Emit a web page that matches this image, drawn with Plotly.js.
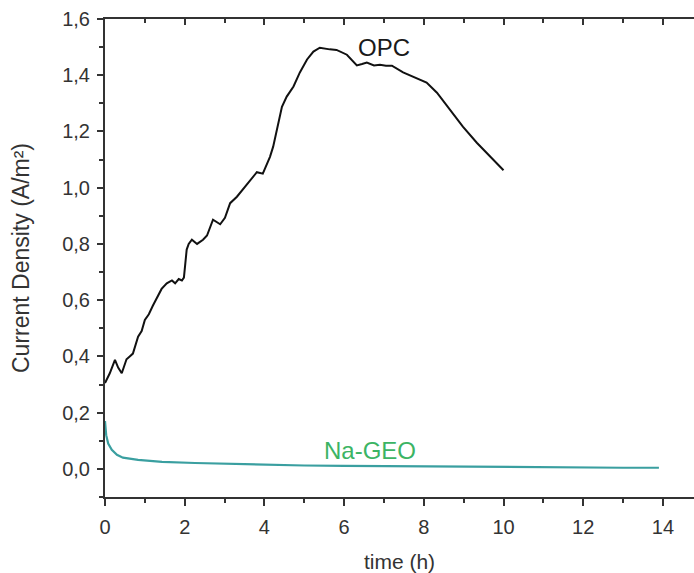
<!DOCTYPE html>
<html>
<head>
<meta charset="utf-8">
<script src="https://cdn.plot.ly/plotly-3.0.1.min.js"></script>
<style>html,body{margin:0;padding:0;background:#fff;}#chart{width:694px;height:573px;}</style>
</head>
<body>
<div id="chart"></div>
<script>
const opcTime = [0, 0.05, 0.12, 0.25, 0.33, 0.42, 0.54, 0.62, 0.70, 0.83, 0.92, 1.0, 1.1, 1.2, 1.3, 1.42, 1.55, 1.68, 1.76, 1.85, 1.93, 1.98, 2.05, 2.1, 2.18, 2.31, 2.46, 2.56, 2.71, 2.89, 3.01, 3.14, 3.31, 3.44, 3.64, 3.81, 3.96, 4.06, 4.14, 4.22, 4.31, 4.44, 4.56, 4.73, 4.89, 5.07, 5.23, 5.39, 5.64, 5.81, 6.07, 6.2, 6.32, 6.45, 6.57, 6.75, 6.9, 7.05, 7.2, 7.48, 7.73, 8.07, 8.33, 8.66, 8.98, 9.33, 9.66, 10.0];
const opcValue = [0.305, 0.32, 0.34, 0.388, 0.36, 0.34, 0.39, 0.40, 0.41, 0.47, 0.49, 0.53, 0.55, 0.58, 0.61, 0.64, 0.66, 0.67, 0.66, 0.675, 0.67, 0.68, 0.78, 0.80, 0.815, 0.80, 0.815, 0.83, 0.886, 0.87, 0.893, 0.945, 0.968, 0.99, 1.025, 1.055, 1.05, 1.08, 1.11, 1.146, 1.20, 1.288, 1.324, 1.36, 1.41, 1.456, 1.484, 1.498, 1.492, 1.49, 1.473, 1.455, 1.435, 1.44, 1.445, 1.435, 1.437, 1.434, 1.434, 1.41, 1.395, 1.374, 1.338, 1.278, 1.217, 1.16, 1.11, 1.062];
const geoTime = [0, 0.03, 0.08, 0.17, 0.3, 0.45, 0.83, 1.43, 2.26, 3.0, 4.0, 5.0, 6.0, 7.0, 8.0, 9.0, 10, 11, 12, 13, 13.9];
const geoValue = [0.17, 0.12, 0.09, 0.068, 0.05, 0.04, 0.032, 0.025, 0.021, 0.018, 0.014, 0.012, 0.011, 0.010, 0.008, 0.006, 0.005, 0.004, 0.004, 0.004, 0.004];
const seriesLabels = ["OPC", "Na-GEO"];

const axisColor = '#333';
const traces = [
  {x: opcTime, y: opcValue, mode: 'lines', name: seriesLabels[0], line: {color: '#111', width: 2}},
  {x: geoTime, y: geoValue, mode: 'lines', name: seriesLabels[1], line: {color: '#3a9fa0', width: 2.2}},
  {x: opcTime, y: opcValue, mode: 'none', xaxis: 'x2', hoverinfo: 'skip', showlegend: false}
];
const layout = {
  width: 694, height: 573,
  margin: {l: 105, r: 0, t: 19, b: 76},
  paper_bgcolor: '#fff', plot_bgcolor: '#fff',
  separators: ',.',
  showlegend: false,
  font: {family: 'Liberation Sans, Arial, sans-serif', color: axisColor, size: 20},
  xaxis: {
    range: [0, 14.78], dtick: 2, tick0: 0, showgrid: false, zeroline: false,
    showline: true, linecolor: axisColor, linewidth: 2,
    ticks: 'outside', ticklen: 7, tickwidth: 2, tickcolor: axisColor,
    minor: {dtick: 1, tick0: 0, ticks: 'outside', ticklen: 4, tickwidth: 2, tickcolor: axisColor, showgrid: false},
    tickfont: {size: 20, color: axisColor}, ticklabelstandoff: 4,
    title: {text: 'time (h)', font: {size: 21, color: axisColor}, standoff: 20}
  },
  xaxis2: {
    overlaying: 'x', side: 'top', anchor: 'y', matches: 'x',
    range: [0, 14.78], dtick: 2, tick0: 0, showgrid: false, zeroline: false,
    showline: true, linecolor: axisColor, linewidth: 2,
    ticks: 'inside', ticklen: 6, tickwidth: 2, tickcolor: axisColor, showticklabels: false,
    minor: {dtick: 1, tick0: 0, ticks: 'inside', ticklen: 4, tickwidth: 2, tickcolor: axisColor, showgrid: false}
  },
  yaxis: {
    range: [-0.1, 1.6], dtick: 0.2, tick0: 0, tickformat: '.1f', showgrid: false, zeroline: false,
    showline: true, linecolor: axisColor, linewidth: 2,
    ticks: 'outside', ticklen: 6, tickwidth: 2, tickcolor: axisColor,
    minor: {dtick: 0.1, tick0: 0, ticks: 'outside', ticklen: 4, tickwidth: 2, tickcolor: axisColor, showgrid: false},
    tickfont: {size: 20, color: axisColor}, ticklabelstandoff: 3,
    title: {text: 'Current Density (A/m²)', font: {size: 23, color: axisColor}, standoff: 26}
  },
  annotations: [
    {x: 7.0, y: 1.50, xref: 'x', yref: 'y', text: seriesLabels[0], showarrow: false, font: {size: 24, color: '#1a1a1a'}},
    {x: 6.65, y: 0.067, xref: 'x', yref: 'y', text: seriesLabels[1], showarrow: false, font: {size: 24, color: '#3cb464'}}
  ]
};
Plotly.newPlot('chart', traces, layout, {displayModeBar: false, staticPlot: true});
</script>
</body>
</html>
